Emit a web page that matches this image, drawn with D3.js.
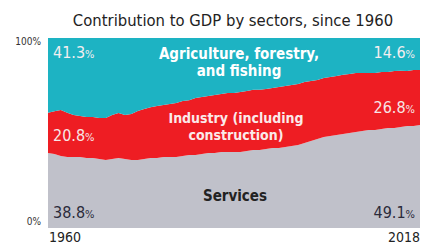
<!DOCTYPE html>
<html>
<head>
<meta charset="utf-8">
<script src="https://cdn.jsdelivr.net/npm/d3@7"></script>
<style>
  body { margin: 0; background: #fff; }
  svg { display: block; }
  text { font-family: "Liberation Sans Narrow", "DejaVu Sans Condensed", "Arial Narrow", sans-serif; }
</style>
</head>
<body>
<div id="chart"></div>
<script>
// share of GDP (%), 1960..2018
var years = d3.range(1960, 2019);
var services = [39.5, 38.9, 37.9, 37.4, 37.4, 37.4, 36.8, 36.8, 36.3, 35.8,
                36.3, 36.8, 36.3, 35.8, 35.8, 36.3, 36.8, 36.8, 37.4, 37.4,
                37.4, 37.9, 38.4, 38.4, 38.9, 39.5, 39.5, 40.0, 40.0, 40.0,
                40.0, 40.5, 41.1, 41.1, 41.6, 42.1, 42.1, 42.6, 43.2, 43.7,
                44.7, 45.8, 46.8, 47.9, 48.4, 48.9, 49.5, 50.0, 50.5, 51.1,
                51.6, 51.6, 52.1, 52.6, 52.6, 53.2, 53.7, 53.7, 54.2];
var industry = [21.1, 22.6, 24.2, 23.2, 22.1, 21.6, 21.6, 21.6, 21.6, 22.1,
                23.2, 23.7, 23.2, 24.2, 25.8, 26.3, 26.8, 27.4, 27.4, 27.9,
                28.4, 28.9, 28.9, 30.0, 30.0, 30.0, 30.5, 30.5, 31.1, 31.1,
                31.6, 31.6, 31.6, 31.6, 31.6, 31.6, 32.1, 32.1, 32.1, 32.1,
                32.1, 31.6, 31.1, 31.1, 31.1, 31.1, 31.1, 31.1, 31.1, 30.5,
                30.0, 30.0, 30.0, 29.5, 30.0, 29.5, 28.9, 29.5, 28.9];
var agriculture = [39.5, 38.4, 37.9, 39.5, 40.5, 41.1, 41.6, 41.6, 42.1, 42.1,
                   40.5, 39.5, 40.5, 40.0, 38.4, 37.4, 36.3, 35.8, 35.3, 34.7,
                   34.2, 33.2, 32.6, 31.6, 31.1, 30.5, 30.0, 29.5, 28.9, 28.9,
                   28.4, 27.9, 27.4, 27.4, 26.8, 26.3, 25.8, 25.3, 24.7, 24.2,
                   23.2, 22.6, 22.1, 21.1, 20.5, 20.0, 19.5, 18.9, 18.4, 18.4,
                   18.4, 18.4, 17.9, 17.9, 17.4, 17.4, 17.4, 16.8, 16.8];

// labels printed on the chart
var startLabels = ['41.3', '20.8', '38.8'];   // agri, industry, services in 1960
var endLabels = ['14.6', '26.8', '49.1'];     // same for 2018
var yTicks = [0, 100];
var xTicks = [1960, 2018];

var W = 423, H = 250;
var mLeft = 48, mRight = 420, mTop = 38, mBottom = 228;

var svg = d3.select('#chart').append('svg').attr('width', W).attr('height', H);

var x = d3.scaleLinear().domain([1960, 2018]).range([mLeft, mRight]);
var y = d3.scaleLinear().domain([0, 100]).range([mBottom, mTop]);

var rows = years.map(function (yr, i) {
    return {year: yr, services: services[i], industry: industry[i], agriculture: agriculture[i]};
});
var keys = ['services', 'industry', 'agriculture'];
var color = {services: '#c0c1ca', industry: '#ee1d23', agriculture: '#1db3c3'};
var series = d3.stack().keys(keys)(rows);

svg.append('clipPath').attr('id', 'plot')
    .append('rect').attr('x', mLeft).attr('y', mTop).attr('width', mRight - mLeft).attr('height', mBottom - mTop);

var area = d3.area()
    .x(function (d) { return x(d.data.year); })
    .y0(function (d) { return y(d[0]); })
    .y1(function (d) { return y(d[1]); });

// top layer fills up to 100%
var topArea = d3.area()
    .x(function (d) { return x(d.data.year); })
    .y0(function (d) { return y(d[0]); })
    .y1(y(100));

svg.append('g').attr('clip-path', 'url(#plot)')
    .selectAll('path').data(series).enter().append('path')
    .attr('fill', function (s) { return color[s.key]; })
    .attr('d', function (s) { return s.key == 'agriculture' ? topArea(s) : area(s); });

// title
svg.append('text').attr('x', 233).attr('y', 26).attr('text-anchor', 'middle')
    .attr('font-size', 16.5).attr('fill', '#222')
    .text('Contribution to GDP by sectors, since 1960');

// y ticks
svg.selectAll('.ytick').data(yTicks).enter().append('text')
    .attr('class', 'ytick')
    .attr('x', 41).attr('y', function (d) { return y(d) + (d == 100 ? 7 : -3); })
    .attr('text-anchor', 'end').attr('font-size', 10).attr('fill', '#333')
    .text(function (d) { return d + '%'; });

// x ticks
svg.selectAll('.xtick').data(xTicks).enter().append('text')
    .attr('class', 'xtick')
    .attr('x', function (d, i) { return x(d) + (i == 0 ? 1 : 0); }).attr('y', 242)
    .attr('text-anchor', function (d, i) { return i == 0 ? 'start' : 'end'; })
    .attr('font-size', 14).attr('fill', '#222')
    .text(function (d) { return d; });

function pct(px, py, val, anchor, fill) {
    var t = svg.append('text').attr('x', px).attr('y', py).attr('text-anchor', anchor)
        .attr('font-size', 16).attr('fill', fill);
    t.append('tspan').text(val);
    t.append('tspan').attr('font-size', 11).text('%');
    return t;
}

var labelY = [58, 141, 218];
var labelFill = ['#f3eef0', '#f7e6e6', '#2b2b3a'];
startLabels.forEach(function (v, i) { pct(x(1960) + 5, labelY[i], v, 'start', labelFill[i]); });
var endY = [58, 113, 218];
endLabels.forEach(function (v, i) { pct(x(2018) - 5, endY[i], v, 'end', labelFill[i]); });

function block(cx, ys, lines, fill, size) {
    lines.forEach(function (l, i) {
        svg.append('text').attr('x', cx).attr('y', ys[i]).attr('text-anchor', 'middle')
            .attr('font-size', size).attr('font-weight', 'bold').attr('fill', fill).text(l);
    });
}
block(239, [59, 76], ['Agriculture, forestry,', 'and fishing'], '#ffffff', 15);
block(236, [123, 139.5], ['Industry (including', 'construction)'], '#fbeaea', 14);
block(235, [201], ['Services'], '#222', 15);
</script>
</body>
</html>
